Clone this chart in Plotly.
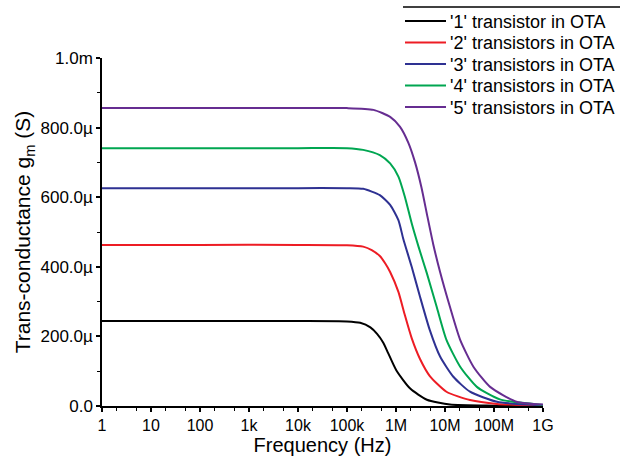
import plotly.graph_objects as go

# ---- data (frequency in Hz, transconductance in µS) ----
labels = ["'1' transistor in OTA", "'2' transistors in OTA", "'3' transistors in OTA",
          "'4' transistors in OTA", "'5' transistors in OTA"]
colors = ["#000000", "#ed1c24", "#2e3192", "#00a651", "#662d91"]

f1 = [1, 1e2, 1e4, 1e5, 1.86e5, 3.0e5, 4.07e5, 5.5e5, 6.92e5, 1.02e6, 1.95e6, 4.27e6, 1.26e7, 1e8, 1e9]
g1 = [244, 244, 244, 243, 239, 226, 208, 182, 152, 102, 50, 18, 4, 1, 0.2]

f2 = [1, 1e2, 1e4, 1e5, 2.14e5, 3.2e5, 4.68e5, 6.0e5, 7.59e5, 1.12e6, 1.51e6, 2.09e6, 3.09e6, 4.90e6, 1.07e7, 3.24e7, 1.15e8, 1e9]
g2 = [463, 463, 463, 462, 458, 448, 431, 410, 385, 328, 262, 195, 135, 86, 41, 17, 6, 1]

f3 = [1, 1e2, 1e4, 1e5, 2.14e5, 4.68e5, 7.59e5, 1.12e6, 1.41e6, 2.09e6, 3.09e6, 4.90e6, 7.94e6, 1.48e7, 3.24e7, 1.15e8, 1e9]
g3 = [626, 626, 626, 626, 624, 606, 578, 534, 480, 400, 314, 218, 142, 84, 41, 12, 2]

f4 = [1, 1e2, 1e4, 1e5, 2.14e5, 4.68e5, 7.59e5, 1.12e6, 1.51e6, 2.09e6, 2.88e6, 4.27e6, 6.76e6, 1.07e7, 2.04e7, 4.47e7, 1.32e8, 1e9]
g4 = [741, 741, 741, 741, 736, 721, 697, 659, 602, 525, 458, 381, 285, 190, 113, 55, 19, 3]

f5 = [1, 1e2, 1e4, 1e5, 3.47e5, 7.59e5, 1.20e6, 1.78e6, 2.45e6, 3.31e6, 4.37e6, 5.75e6, 7.94e6, 1.26e7, 2.04e7, 3.80e7, 8.32e7, 2.88e8, 1e9]
g5 = [856, 856, 856, 856, 851, 831, 803, 757, 700, 628, 545, 465, 385, 285, 190, 113, 55, 12, 4]

freqs = [f1, f2, f3, f4, f5]
gms = [g1, g2, g3, g4, g5]

x_tickvals = [1, 10, 100, 1e3, 1e4, 1e5, 1e6, 1e7, 1e8, 1e9]
x_ticktext = ["1", "10", "100", "1k", "10k", "100k", "1M", "10M", "100M", "1G"]
y_tickvals = [0, 200e-6, 400e-6, 600e-6, 800e-6, 1e-3]
y_ticktext = ["0.0", "200.0µ", "400.0µ", "600.0µ", "800.0µ", "1.0m"]

# plot area in pixels
L, R, T, B = 102, 543, 58, 406
W, H = 620, 458

def px(x):
    return (x - L) / (R - L)

def py(y):
    return (B - y) / (B - T)

fig = go.Figure()
for f, g, name, c in zip(freqs, gms, labels, colors):
    fig.add_trace(go.Scatter(
        x=f, y=[v * 1e-6 for v in g], mode="lines", name=name,
        line=dict(color=c, width=2, shape="spline", smoothing=0.6),
        showlegend=False,
    ))

font = "Liberation Sans, Arial, sans-serif"
fig.update_layout(
    width=W, height=H,
    margin=dict(l=L, r=W - R, t=T, b=H - B, autoexpand=False),
    paper_bgcolor="white", plot_bgcolor="white",
    font=dict(family=font, size=17, color="black"),
    xaxis=dict(
        type="log", range=[0, 9],
        tickvals=x_tickvals, ticktext=x_ticktext, tickangle=0,
        ticks="outside", ticklen=4, tickwidth=1.5, tickcolor="black",
        showline=True, linecolor="black", linewidth=1.5,
        showgrid=False, zeroline=False,
        minor=dict(ticks="outside", ticklen=3, tickwidth=1, tickcolor="black", showgrid=False),
        title=dict(text="Frequency (Hz)", font=dict(family=font, size=20), standoff=0),
        tickfont=dict(family=font, size=16),
    ),
    yaxis=dict(
        range=[0, 1e-3],
        tickvals=y_tickvals, ticktext=y_ticktext,
        ticks="outside", ticklen=4, tickwidth=1.5, tickcolor="black",
        showline=True, linecolor="black", linewidth=1.5,
        showgrid=False, zeroline=False,
        minor=dict(ticks="outside", ticklen=3, tickwidth=1, tickcolor="black", dtick=100e-6, showgrid=False),
        title=dict(text="Trans-conductance g<sub>m</sub> (S)", font=dict(family=font, size=21), standoff=4),
        tickfont=dict(family=font, size=17),
    ),
)

# legend box (top rule, line samples and labels)
fig.add_shape(type="line", xref="paper", yref="paper",
              x0=px(403), x1=px(620), y0=py(7), y1=py(7),
              line=dict(color="black", width=1.5))
row_y = [21, 42.5, 64, 85.5, 107]
for name, c, yy in zip(labels, colors, row_y):
    fig.add_shape(type="line", xref="paper", yref="paper",
                  x0=px(405), x1=px(446), y0=py(yy), y1=py(yy),
                  line=dict(color=c, width=2))
    fig.add_annotation(xref="paper", yref="paper", x=px(448), y=py(yy + 0.5),
                       text=name, showarrow=False, xanchor="left", yanchor="middle",
                       font=dict(family=font, size=18, color="black"))

fig.write_html("out.html")
